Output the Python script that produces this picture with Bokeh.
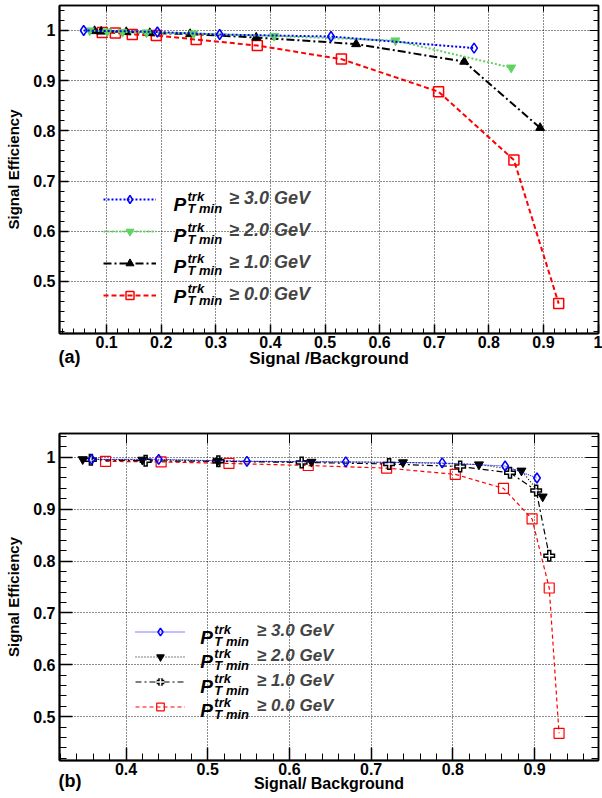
import numpy as np
from bokeh.plotting import figure
from bokeh.models import Range1d, LinearAxis, FixedTicker, Legend, LegendItem, Label, Title
from bokeh.layouts import column
from bokeh.embed import file_html
from bokeh.resources import INLINE

# ---------------- panel (a) data ----------------
A_X_30 = [0.058, 0.193, 0.307, 0.511, 0.773]
A_Y_30 = [1.000, 0.997, 0.992, 0.988, 0.965]
A_X_20 = [0.069, 0.101, 0.129, 0.173, 0.259, 0.407, 0.629, 0.841]
A_Y_20 = [1.000, 0.998, 0.997, 0.996, 0.994, 0.989, 0.980, 0.926]
A_X_10 = [0.078, 0.090, 0.136, 0.179, 0.253, 0.374, 0.557, 0.755, 0.894]
A_Y_10 = [0.999, 0.998, 0.997, 0.995, 0.993, 0.986, 0.973, 0.938, 0.806]
A_X_00 = [0.092, 0.116, 0.147, 0.191, 0.264, 0.376, 0.530, 0.708, 0.846, 0.928]
A_Y_00 = [0.996, 0.995, 0.992, 0.990, 0.982, 0.970, 0.943, 0.878, 0.742, 0.456]

# ---------------- panel (b) data ----------------
B_X_30 = [0.358, 0.440, 0.548, 0.669, 0.787, 0.864, 0.903]
B_Y_30 = [0.996, 0.996, 0.992, 0.991, 0.989, 0.983, 0.960]
B_X_20 = [0.347, 0.420, 0.512, 0.627, 0.739, 0.832, 0.884, 0.910]
B_Y_20 = [0.996, 0.995, 0.993, 0.991, 0.990, 0.986, 0.974, 0.924]
B_X_10 = [0.357, 0.424, 0.513, 0.615, 0.722, 0.809, 0.870, 0.902, 0.918]
B_Y_10 = [0.995, 0.993, 0.992, 0.990, 0.987, 0.982, 0.970, 0.936, 0.810]
B_X_00 = [0.375, 0.443, 0.526, 0.623, 0.719, 0.803, 0.862, 0.897, 0.918, 0.930]
B_Y_00 = [0.992, 0.991, 0.988, 0.984, 0.979, 0.967, 0.940, 0.881, 0.748, 0.468]

# ---------------- ticks / labels ----------------
A_XTICKS = [0.1, 0.2, 0.3, 0.4, 0.5, 0.6, 0.7, 0.8, 0.9, 1.0]
A_XLABELS = ["0.1", "0.2", "0.3", "0.4", "0.5", "0.6", "0.7", "0.8", "0.9", "1"]
B_XTICKS = [0.4, 0.5, 0.6, 0.7, 0.8, 0.9]
B_XLABELS = ["0.4", "0.5", "0.6", "0.7", "0.8", "0.9"]
YTICKS = [0.5, 0.6, 0.7, 0.8, 0.9, 1.0]
YLABELS = ["0.5", "0.6", "0.7", "0.8", "0.9", "1"]
XMINOR = np.round(np.arange(0.0, 1.0001, 0.02), 2).tolist()
YMINOR = np.round(np.arange(0.38, 1.0601, 0.02), 2).tolist()
LEGEND_CUTS = ["\u2265 3.0 GeV", "\u2265 2.0 GeV", "\u2265 1.0 GeV", "\u2265 0.0 GeV"]
PANEL_TAGS = ["(a)", "(b)"]

FONT = "Liberation Sans"


def make_panel(height, xr, yr, borders, xticks, xlabels, xtitle, maj, mnr, top_maj,
               xlab_size, xtitle_size, xtitle_standoff):
    bl, br, bt, bb = borders
    p = figure(width=602, height=height, x_range=Range1d(*xr), y_range=Range1d(*yr),
               output_backend="svg", toolbar_location=None,
               min_border_left=bl, min_border_right=br, min_border_top=bt, min_border_bottom=bb)
    p.outline_line_color = "black"
    p.outline_line_width = 1.5
    p.background_fill_color = "white"
    p.border_fill_color = "white"

    xt = FixedTicker(ticks=xticks, minor_ticks=XMINOR)
    yt = FixedTicker(ticks=YTICKS, minor_ticks=YMINOR)

    xa = p.xaxis[0]
    xa.ticker = xt
    xa.major_label_overrides = dict(zip(xticks, xlabels))
    ya = p.yaxis[0]
    ya.ticker = yt
    ya.major_label_overrides = dict(zip(YTICKS, YLABELS))

    for ax in (xa, ya):
        ax.axis_line_width = 2
        ax.axis_line_color = "black"
        ax.major_tick_in = maj
        ax.major_tick_out = 0
        ax.minor_tick_in = mnr
        ax.minor_tick_out = 0
        ax.major_tick_line_width = 1.5
        ax.minor_tick_line_width = 1
        ax.major_label_text_font = FONT
        ax.major_label_text_font_style = "bold"
        ax.major_label_text_color = "black"
        ax.axis_label_text_font = FONT
        ax.axis_label_text_font_style = "bold"
        ax.axis_label_text_color = "black"

    xa.major_label_text_font_size = xlab_size
    xa.major_label_standoff = 2
    xa.axis_label = xtitle
    xa.axis_label_text_font_size = xtitle_size
    xa.axis_label_standoff = xtitle_standoff

    ya.major_label_text_font_size = "16px"
    ya.major_label_standoff = 4
    ya.axis_label = "Signal Efficiency"
    ya.axis_label_text_font_size = "15px"
    ya.axis_label_standoff = 8

    top = LinearAxis(ticker=xt, major_tick_in=top_maj, major_tick_out=0,
                     minor_tick_in=0, minor_tick_out=0, major_label_text_font_size="0px",
                     major_label_text_color=None, major_label_standoff=0, axis_line_width=1.5)
    p.add_layout(top, "above")
    right = LinearAxis(ticker=yt, major_tick_in=maj, major_tick_out=0,
                       minor_tick_in=mnr, minor_tick_out=0, major_label_text_font_size="0px",
                       major_label_text_color=None, major_label_standoff=0, axis_line_width=1.5)
    p.add_layout(right, "right")

    p.xgrid.ticker = xt
    p.ygrid.ticker = yt
    for g in (p.xgrid[0], p.ygrid[0]):
        g.grid_line_color = "black"
        g.grid_line_dash = "1 2"
        g.grid_line_width = 1
        g.grid_line_alpha = 0.9
    return p


def legend_text(p, x, ys, main_size, sub_size, sub_dx):
    for y in ys:
        p.add_layout(Label(x=x, y=y, text="P", text_font=FONT, text_font_style="bold italic",
                           text_font_size=main_size, text_color="black", text_baseline="alphabetic"))
        p.add_layout(Label(x=x, y=y, x_offset=sub_dx, y_offset=8, text="trk", text_font=FONT,
                           text_font_style="bold italic", text_font_size=sub_size,
                           text_color="black", text_baseline="alphabetic"))
        p.add_layout(Label(x=x, y=y, x_offset=sub_dx, y_offset=-4, text="T min", text_font=FONT,
                           text_font_style="bold italic", text_font_size=sub_size,
                           text_color="black", text_baseline="alphabetic"))


def panel_tag(p, text, standoff):
    p.add_layout(Title(text=text, align="left", vertical_align="top", offset=-1, standoff=standoff,
                       text_font=FONT, text_font_style="bold", text_font_size="18px",
                       text_color="black"), "below")


# ======================= panel (a) =======================
p1 = make_panel(415, (0.0137, 1.0009), (0.3964, 1.0498), (59, 4, 5, 82),
                A_XTICKS, A_XLABELS, "Signal /Background", 9, 5, 6, "16px", "17px", -2)

RED, BLUE, GREEN = "#ff0000", "#0000ff", "#5fd35f"

r0l = p1.line(A_X_00, A_Y_00, line_color=RED, line_width=2, line_dash="5 3")
r0m = p1.scatter(A_X_00, A_Y_00, marker="square", size=10, fill_color=None, line_color=RED, line_width=1.5)
r1l = p1.line(A_X_10, A_Y_10, line_color="black", line_width=2, line_dash="8 3 2 3")
r1m = p1.scatter(A_X_10, A_Y_10, marker="triangle", size=9, fill_color="black", line_color="black")
r2l = p1.line(A_X_20, A_Y_20, line_color=GREEN, line_width=2, line_dash="2 2")
r2m = p1.scatter(A_X_20, A_Y_20, marker="inverted_triangle", size=9, fill_color=GREEN, line_color=GREEN)
r3l = p1.line(A_X_30, A_Y_30, line_color=BLUE, line_width=2, line_dash="2 2")
r3m = p1.scatter(A_X_30, A_Y_30, marker="diamond", size=10, fill_color=None, line_color=BLUE, line_width=1.5)

leg1 = Legend(items=[LegendItem(label=LEGEND_CUTS[0], renderers=[r3l, r3m]),
                     LegendItem(label=LEGEND_CUTS[1], renderers=[r2l, r2m]),
                     LegendItem(label=LEGEND_CUTS[2], renderers=[r1l, r1m]),
                     LegendItem(label=LEGEND_CUTS[3], renderers=[r0l, r0m])],
              location=(44, 28), glyph_width=53, glyph_height=20, label_height=20,
              spacing=11, padding=0, margin=0, label_standoff=73,
              label_text_font=FONT, label_text_font_style="bold italic", label_text_font_size="18px",
              border_line_alpha=0, background_fill_alpha=0)
p1.add_layout(leg1)
legend_text(p1, 0.2225, [0.653, 0.591, 0.530, 0.470], "19px", "13px", 14)
panel_tag(p1, PANEL_TAGS[0], -48)

# ======================= panel (b) =======================
p2 = make_panel(383, (0.3186, 0.9783), (0.4156, 1.0457), (59, 4, 18, 38),
                B_XTICKS, B_XLABELS, "Signal/ Background", 13, 7, 10, "16px", "16px", -3)

b0l = p2.line(B_X_00, B_Y_00, line_color=RED, line_width=1.2, line_dash="4 3")
b0m = p2.scatter(B_X_00, B_Y_00, marker="square", size=10, fill_color=None, line_color=RED, line_width=1.2)
b1l = p2.line(B_X_10, B_Y_10, line_color="black", line_width=1.2, line_dash="6 3 2 3")
b1a = p2.scatter(B_X_10, B_Y_10, marker="cross", size=12, line_color="black", line_width=4.5)
b1b = p2.scatter(B_X_10, B_Y_10, marker="cross", size=9, line_color="white", line_width=1.5)
b2l = p2.line(B_X_20, B_Y_20, line_color="black", line_width=1.2, line_dash="1 2")
b2m = p2.scatter(B_X_20, B_Y_20, marker="inverted_triangle", size=9, fill_color="black", line_color="black")
b3l = p2.line(B_X_30, B_Y_30, line_color=BLUE, line_width=1, line_dash="1 1")
b3m = p2.scatter(B_X_30, B_Y_30, marker="diamond", size=10, fill_color=None, line_color=BLUE, line_width=1.5)

leg2 = Legend(items=[LegendItem(label=LEGEND_CUTS[0], renderers=[b3l, b3m]),
                     LegendItem(label=LEGEND_CUTS[1], renderers=[b2l, b2m]),
                     LegendItem(label=LEGEND_CUTS[2], renderers=[b1l, b1a, b1b]),
                     LegendItem(label=LEGEND_CUTS[3], renderers=[b0l, b0m])],
              location=(76, 44), glyph_width=50, glyph_height=19, label_height=19,
              spacing=5, padding=0, margin=0, label_standoff=72,
              label_text_font=FONT, label_text_font_style="bold italic", label_text_font_size="17px",
              border_line_alpha=0, background_fill_alpha=0)
p2.add_layout(leg2)
legend_text(p2, 0.491, [0.653, 0.606, 0.558, 0.511], "19px", "13px", 14)
panel_tag(p2, PANEL_TAGS[1], -48)

layout = column(p1, p2, spacing=0)
open("out.html", "w").write(file_html(layout, INLINE))
